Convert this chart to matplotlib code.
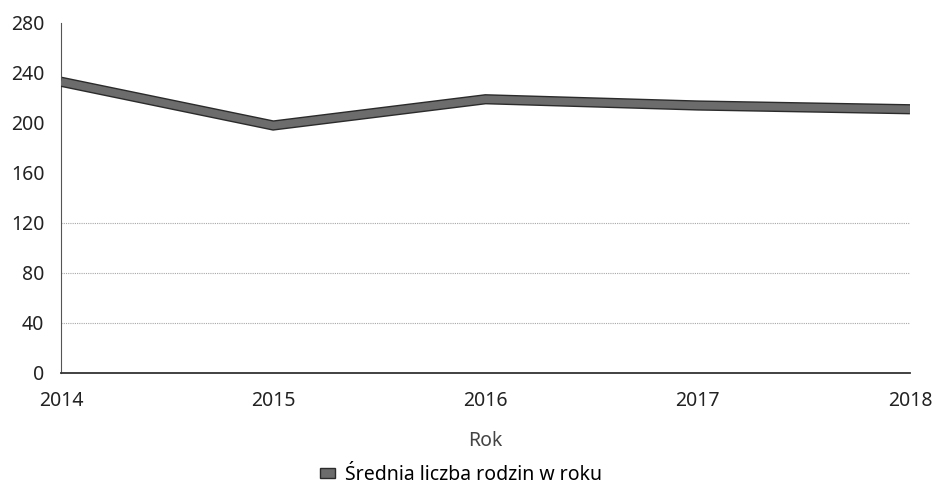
import matplotlib.pyplot as plt
from matplotlib.patches import Patch

plt.rcParams['font.family'] = ['Noto Sans', 'DejaVu Sans']

lata = [2014, 2015, 2016, 2017, 2018]
srednia = [233, 198, 219, 214, 211]
yticks = [0, 40, 80, 120, 160, 200, 240, 280]

fig = plt.figure(figsize=(9.35, 4.95), dpi=100)
ax = fig.add_axes([61/935, 1 - 373/495, (910 - 61)/935, 350/495])

# linie siatki tylko w dolnej części
for y in [40, 80, 120]:
    ax.axhline(y, color='#a8a8a8', lw=0.8, ls=(0, (1, 1)), zorder=1)

# linia jako szara wstęga z ciemną obwódką
ax.plot(lata, srednia, color='#2b2b2b', lw=7.4, solid_capstyle='butt',
        solid_joinstyle='miter', zorder=3)
ax.plot(lata, srednia, color='#6c6c6c', lw=5.4, solid_capstyle='butt',
        solid_joinstyle='miter', zorder=4)

ax.set_xlim(2014, 2018)
ax.set_ylim(0, 280)
ax.set_xticks(lata)
ax.set_yticks(yticks)
ax.tick_params(length=0, labelsize=14, colors='#222222')
ax.tick_params(axis='y', pad=12)
ax.tick_params(axis='x', pad=13)

for s in ['top', 'right']:
    ax.spines[s].set_visible(False)
ax.spines['bottom'].set_color('#333333')
ax.spines['bottom'].set_linewidth(1.3)
ax.spines['left'].set_color('#555555')
ax.spines['left'].set_linewidth(0.8)
ax.spines['left'].set_linestyle((0, (1, 1)))

ax.set_xlabel('Rok', fontsize=14, color='#444444', labelpad=14)

uchwyt = Patch(facecolor='#6c6c6c', edgecolor='#2b2b2b', lw=1.0)
fig.legend([uchwyt], ['Średnia liczba rodzin w roku'], loc='center',
           bbox_to_anchor=(461/935, 1 - 475/495), frameon=False,
           fontsize=14, handlelength=0.8, handleheight=0.35, handletextpad=0.5)

fig.savefig('out.png', dpi=100)
